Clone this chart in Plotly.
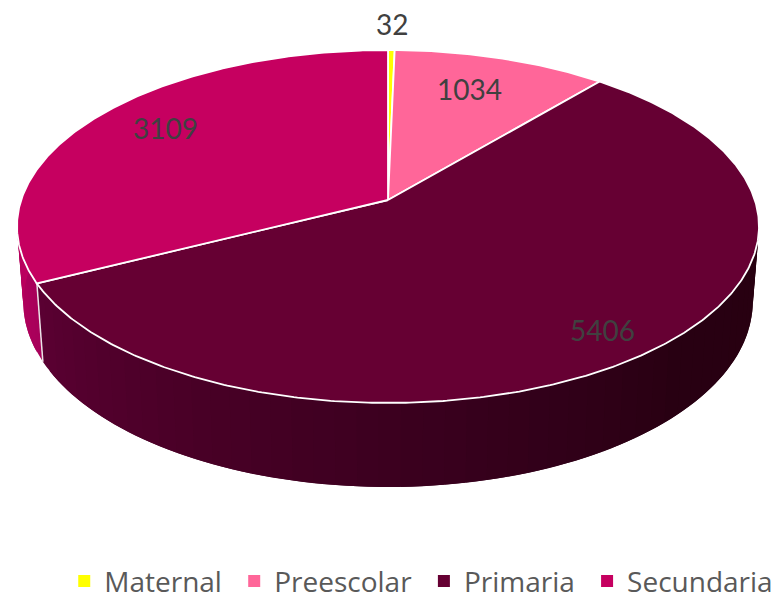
import math
import plotly.graph_objects as go

categories = ["Maternal", "Preescolar", "Primaria", "Secundaria"]
values = [32, 1034, 5406, 3109]
top_colors = ["#ffff00", "#ff6699", "#660033", "#c60060"]
label_radius = [1.204, 0.752, 0.858, 0.788]
label_shift_deg = [0, -1.5, 0.7, 3]

# Projection of the tilted pie on a 774x599 pixel plot area
CX, CY, A, B, K = 388, 200, 172.5, 366.8, 0.15
LOW_SCALE, LOW_DROP = 0.983, 74.4


def project(theta, r=1.0, low=False):
    x, z = r * math.sin(theta), r * math.cos(theta)
    d = 1 + K * z
    if low:
        return CX + LOW_SCALE * B * x / d, CY + (LOW_DROP - LOW_SCALE * A * z) / d
    return CX + B * x / d, CY - A * z / d


def lerp_hex(stops, t):
    for (t0, c0), (t1, c1) in zip(stops, stops[1:]):
        if t <= t1:
            f = (t - t0) / (t1 - t0)
            return "rgb(" + ",".join(str(round(a + (b - a) * f)) for a, b in zip(c0, c1)) + ")"
    return "rgb(%d,%d,%d)" % stops[-1][1]


primaria_wall = [(0, (40, 0, 16)), (0.35, (40, 0, 18)), (0.55, (54, 0, 28)), (0.78, (72, 0, 38)), (1, (90, 0, 50))]
secundaria_wall = [(0, (168, 0, 90)), (1, (200, 0, 98))]

total = sum(values)
edges = [0.0]
for v in values:
    edges.append(edges[-1] + v / total * 2 * math.pi)
i_prim, i_sec = categories.index("Primaria"), categories.index("Secundaria")

fig = go.Figure()


def add_strip(t0, t1, color):
    ring = [t0 + (t1 - t0) * j / 4 for j in range(5)]
    p = [project(t) for t in ring] + [project(t, low=True) for t in reversed(ring)]
    p.append(p[0])
    fig.add_trace(go.Scatter(
        x=[q[0] for q in p], y=[q[1] for q in p],
        mode="lines", fill="toself", fillcolor=color,
        line=dict(width=0), hoverinfo="skip", showlegend=False))


STEP = math.radians(3)
# wall of Primaria, painted left to right so that each strip overlaps the next one
start, stop = math.radians(75), edges[i_prim + 1]
n = int((stop - start) / STEP) + 1
for i in range(n - 1, -1, -1):
    t0 = start + (stop - start) * max(i - 1, 0) / n
    t1 = start + (stop - start) * (i + 1) / n
    add_strip(t0, t1, lerp_hex(primaria_wall, i / (n - 1)))
# visible wall of Secundaria
start, stop = edges[i_sec], math.radians(285)
n = int((stop - start) / STEP) + 1
for i in range(n):
    t0 = start + (stop - start) * i / n
    t1 = start + (stop - start) * min(i + 2, n) / n
    add_strip(t0, t1, lerp_hex(secundaria_wall, i / max(n - 1, 1)))

# seam between the two walls
seam = [project(edges[i_sec]), project(edges[i_sec], low=True)]
fig.add_trace(go.Scatter(x=[q[0] for q in seam], y=[q[1] for q in seam], mode="lines",
                         line=dict(color="#ece4e8", width=1.5), hoverinfo="skip", showlegend=False))

# top face slices
for i, name in enumerate(categories):
    t0, t1 = edges[i], edges[i + 1]
    n = max(int((t1 - t0) / math.radians(0.5)), 2)
    pts = [project(t0 + (t1 - t0) * j / n) for j in range(n + 1)]
    xs = [CX] + [q[0] for q in pts] + [CX]
    ys = [CY] + [q[1] for q in pts] + [CY]
    fig.add_trace(go.Scatter(x=xs, y=ys, mode="lines", fill="toself", fillcolor=top_colors[i],
                             line=dict(color="white", width=1.8), name=name,
                             hovertemplate=f"{name}: {values[i]}<extra></extra>", showlegend=False))

# data labels
for i, v in enumerate(values):
    mid = (edges[i] + edges[i + 1]) / 2 + math.radians(label_shift_deg[i])
    lx, ly = project(mid, label_radius[i])
    fig.add_annotation(x=lx, y=ly, text=str(v), showarrow=False,
                       font=dict(family="Lato", size=28, color="#404040"))

# legend entries
for name, col in zip(categories, top_colors):
    fig.add_trace(go.Scatter(x=[None], y=[None], mode="markers",
                             name=name if name == categories[-1] else name + "\u00a0",
                             marker=dict(symbol="square", size=12, color=col)))

fig.update_layout(
    width=774, height=599, margin=dict(l=0, r=0, t=0, b=0, pad=0, autoexpand=False),
    paper_bgcolor="white", plot_bgcolor="white",
    xaxis=dict(range=[0, 774], visible=False, fixedrange=True),
    yaxis=dict(range=[599, 0], visible=False, fixedrange=True),
    legend=dict(orientation="h", x=0.083, y=-0.012, xanchor="left", yanchor="bottom",
                font=dict(family="Open Sans", size=28, color="#595959"),
                bgcolor="rgba(0,0,0,0)", itemwidth=30),
)
fig.write_html("out.html", config={"displayModeBar": False},
               post_script="document.body.style.margin='0';")
